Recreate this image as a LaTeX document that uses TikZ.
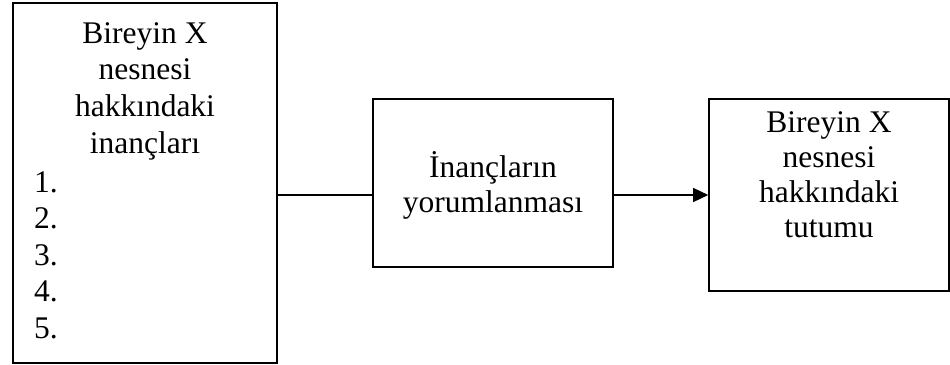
\documentclass[tikz,border=0pt]{standalone}
\usepackage{fontspec}
\setmainfont{Liberation Serif}
\usetikzlibrary{arrows.meta}

\tikzset{
  box/.style={draw, line width=1.6pt, inner sep=0pt, minimum width=#1},
  label text/.style={inner sep=0pt, anchor=base},
  link/.style={line width=1.4pt},
}
\newcommand{\bodyfont}[1]{\fontsize{31.5}{#1}\selectfont}

\begin{document}
\begin{tikzpicture}[x=1pt, y=-1pt]
  \useasboundingbox (0,0) rectangle (950,364);

  % the three boxes
  \node[box=264pt, minimum height=360pt] (beliefs)   at (145,183) {};
  \node[box=240pt, minimum height=168pt] (interp)    at (493,183) {};
  \node[box=240pt, minimum height=192pt] (attitude)  at (829,195) {};

  % texts inside the boxes
  \node[label text] (beliefsHead) at (145,43)
    {\bodyfont{36.9}\begin{tabular}[t]{@{}c@{}}Bireyin X\\ nesnesi\\ hakkındaki\\ inançları\end{tabular}};
  \node[label text, anchor=base west] (beliefsList) at (34,192)
    {\bodyfont{36.6}\begin{tabular}[t]{@{}l@{}}1.\\ 2.\\ 3.\\ 4.\\ 5.\end{tabular}};
  \node[label text] (interpText) at (493,177)
    {\bodyfont{35.5}\begin{tabular}[t]{@{}c@{}}İnançların\\ yorumlanması\end{tabular}};
  \node[label text] (attitudeText) at (829,132)
    {\bodyfont{35}\begin{tabular}[t]{@{}c@{}}Bireyin X\\ nesnesi\\ hakkındaki\\ tutumu\end{tabular}};

  % connectors
  \draw[link] (beliefs.east |- attitude.west) -- (interp.west |- attitude.west);
  \draw[link, -{Triangle[length=15pt, width=14pt]}] (interp.east |- attitude.west) -- (attitude.west);
\end{tikzpicture}
\end{document}
